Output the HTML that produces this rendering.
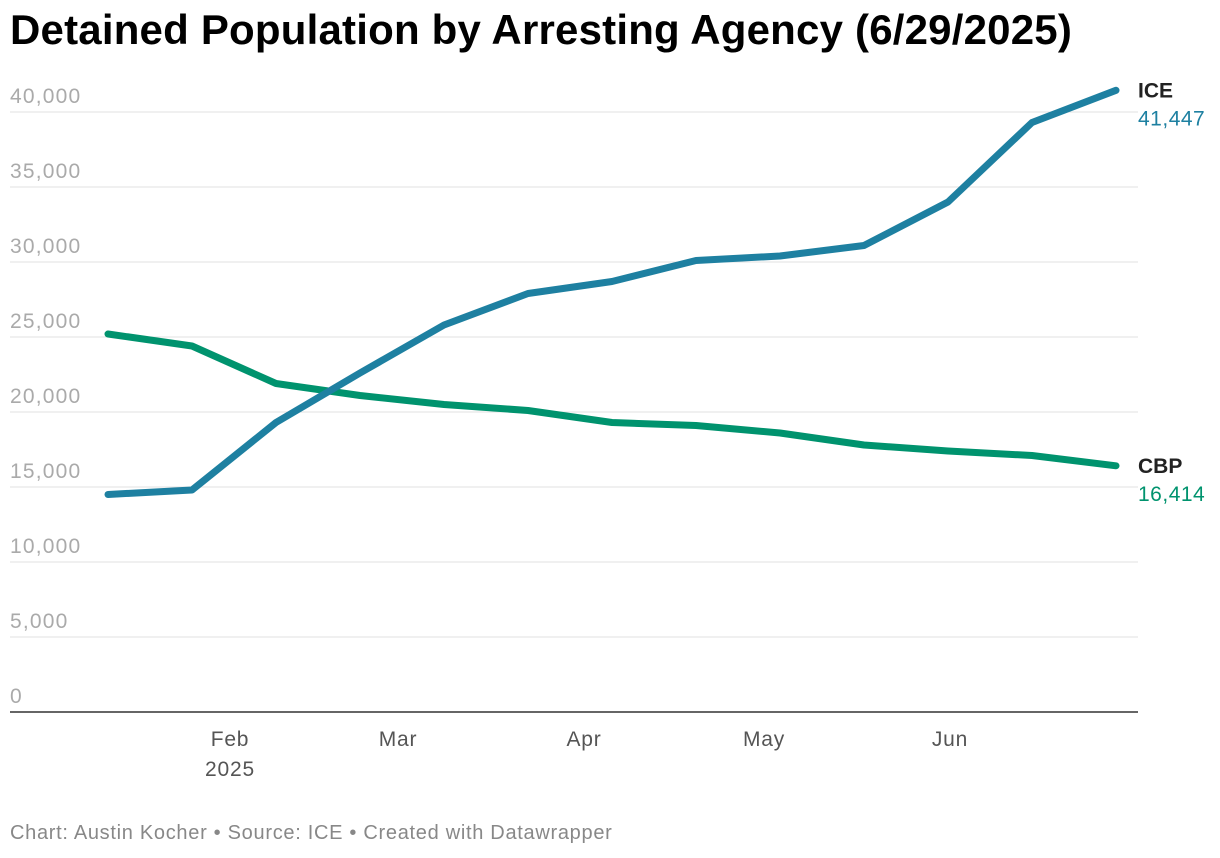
<!DOCTYPE html>
<html><head><meta charset="utf-8"><style>
body{margin:0;background:#fff;font-family:"Liberation Sans",Arial,sans-serif;}
#wrap{position:relative;width:1220px;height:858px;overflow:hidden;}
h1{position:absolute;left:10px;top:6px;margin:0;font-size:42px;font-weight:bold;color:#000;letter-spacing:0.2px;}
#foot{position:absolute;left:10px;top:822px;font-size:20px;color:#888;letter-spacing:0.7px;}
</style></head><body>
<div id="wrap">
<h1>Detained Population by Arresting Agency (6/29/2025)</h1>
<svg id="chart" width="1220" height="858" style="position:absolute;left:0;top:0"></svg>
<div id="foot">Chart: Austin Kocher • Source: ICE • Created with Datawrapper</div>
</div>
<script>
const days=[11,25,39,53,67,81,95,109,123,137,151,165,179];
const iceValues=[14500,14800,19300,22600,25800,27900,28700,30100,30400,31100,34000,39300,41447];
const cbpValues=[25200,24400,21900,21100,20500,20100,19300,19100,18600,17800,17400,17100,16414];
const yTicks=[0,5000,10000,15000,20000,25000,30000,35000,40000];
const monthLabels=["Feb","Mar","Apr","May","Jun"];
const monthDays=[31,59,90,120,151];
const NS="http://www.w3.org/2000/svg";
const svg=document.getElementById('chart');
const x=d=>108+(d-11)*6;
const y=v=>712-v*0.015;
function mk(t,a){const e=document.createElementNS(NS,t);for(const k in a)e.setAttribute(k,a[k]);svg.appendChild(e);return e;}
yTicks.forEach(v=>{
 if(v>0){const g=mk('line',{x1:10,x2:1138,y1:y(v),y2:y(v),stroke:'#e2e2e2','stroke-width':1});
 
 }
 const t=mk('text',{x:10,y:y(v)-9,'font-size':21,fill:'#aaa','letter-spacing':1.2});
 t.textContent=v.toLocaleString('en-US');
 
 
});
const base=mk('line',{x1:10,x2:1138,y1:712,y2:712,stroke:'#333','stroke-width':1.5});


monthLabels.forEach((m,i)=>{
 const t=mk('text',{x:x(monthDays[i])+2,y:746,'font-size':21,fill:'#555','text-anchor':'middle','letter-spacing':0.8});
 t.textContent=m;
 
 
});
const yr=mk('text',{x:x(31)+2,y:776,'font-size':21,fill:'#555','text-anchor':'middle','letter-spacing':0.8});
yr.textContent='2025';


function series(vals,col,name,label){
 const p=mk('polyline',{points:vals.map((v,i)=>x(days[i])+','+y(v)).join(' '),fill:'none',stroke:col,'stroke-width':7,'stroke-linejoin':'round','stroke-linecap':'round'});
 
 
 const ly=y(vals[vals.length-1]);
 const t=mk('text',{x:1138,y:ly+7,'font-size':21,'font-weight':'bold',fill:'#222'});
 t.textContent=label;
 
 
 const v=mk('text',{x:1138,y:ly+35,'font-size':21,fill:col,'letter-spacing':0.5});
 v.textContent=vals[vals.length-1].toLocaleString('en-US');
 
 
}
series(cbpValues,'#00936e','cbp','CBP');
series(iceValues,'#1e80a1','ice','ICE');
</script>
</body></html>
